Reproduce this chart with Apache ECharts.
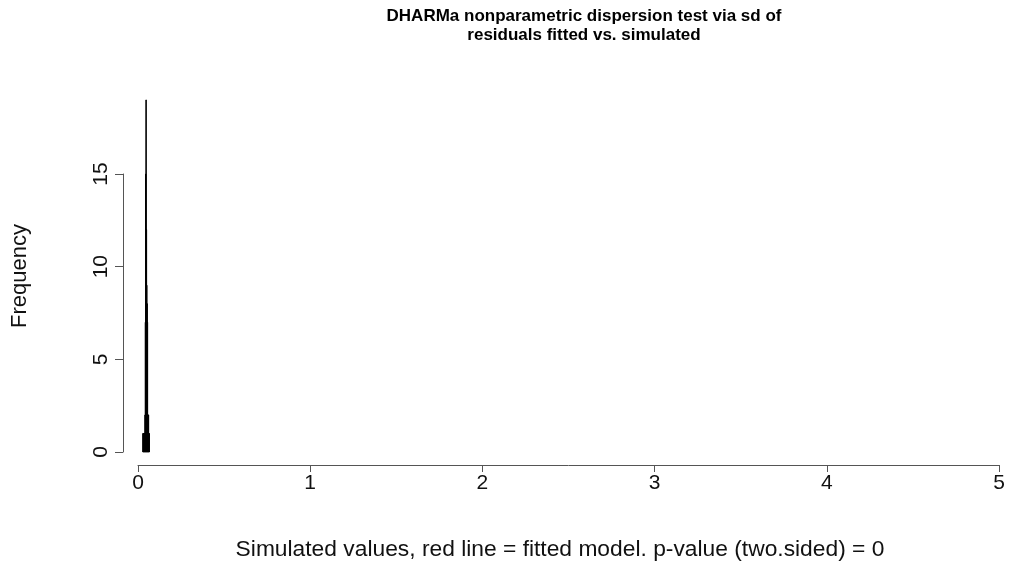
<!DOCTYPE html>
<html>
<head>
<meta charset="utf-8">
<script src="https://cdn.jsdelivr.net/npm/echarts@6/dist/echarts.min.js"></script>
<style>
html,body{margin:0;padding:0;background:#fff;}
#chart{width:1013px;height:581px;}
</style>
</head>
<body>
<div id="chart"></div>
<script>
// Histogram of simulated dispersion statistics (sd of residuals)
var binStarts = [0.028,0.030,0.032,0.034,0.036,0.038,0.040,0.042,0.044,0.046,0.048,0.050,0.052,0.054,0.056,0.058,0.060,0.062,0.064];
var binWidth = 0.002;
var counts = [1,1,1,1,1,1,2,7,15,19,12,9,8,7,2,2,2,1,1];
var xTicks = [0,1,2,3,4,5];
var yTicks = [0,5,10,15];
var titleText = 'DHARMa nonparametric dispersion test via sd of\nresiduals fitted vs. simulated';
var xTitle = 'Simulated values, red line = fitted model. p-value (two.sided) = 0';
var yTitle = 'Frequency';

var histData = binStarts.map(function(s,i){ return [s, s+binWidth, counts[i]]; });

var FONT = '"Liberation Sans", Arial, Helvetica, sans-serif';
var chart = echarts.init(document.getElementById('chart'), null, {renderer:'canvas'});
var option = {
  backgroundColor:'#fff',
  animation:false,
  title:{
    text:titleText,
    left:579, top:2, textAlign:'center',
    textStyle:{fontFamily:FONT, fontSize:17, fontWeight:'bold', color:'#000', lineHeight:19}
  },
  grid:[
    {left:138, right:14, top:81.4, bottom:129},
    {left:138, right:14, top:174, bottom:129}
  ],
  xAxis:[
    {gridIndex:0, type:'value', min:0, max:5, show:false},
    {gridIndex:1, type:'value', min:xTicks[0], max:xTicks[xTicks.length-1], interval:1,
     offset:13,
     axisLine:{show:true, onZero:false, lineStyle:{color:'#555', width:1}},
     axisTick:{show:true, length:7, lineStyle:{color:'#555', width:1}},
     axisLabel:{show:true, margin:8, fontFamily:FONT, fontSize:21, color:'#111'},
     splitLine:{show:false}}
  ],
  yAxis:[
    {gridIndex:0, type:'value', min:0, max:20, show:false},
    {gridIndex:1, type:'value', min:yTicks[0], max:yTicks[yTicks.length-1], interval:5,
     offset:15,
     axisLine:{show:true, onZero:false, lineStyle:{color:'#555', width:1}},
     axisTick:{show:true, length:8, lineStyle:{color:'#555', width:1}},
     axisLabel:{show:true, rotate:90, margin:11, fontFamily:FONT, fontSize:21, color:'#111'},
     splitLine:{show:false}}
  ],
  series:[{
    type:'custom',
    xAxisIndex:0, yAxisIndex:0,
    data:histData,
    clip:false,
    renderItem:function(params, api){
      var p0 = api.coord([api.value(0), api.value(2)]);
      var p1 = api.coord([api.value(1), 0]);
      return {type:'rect',
        shape:{x:p0[0], y:p0[1], width:p1[0]-p0[0], height:p1[1]-p0[1]},
        style:{fill:'#000', stroke:'#000', lineWidth:1}};
    }
  }],
  graphic:[
    {type:'text', x:560, y:550, style:{text:xTitle, font:'22.8px ' + FONT, fill:'#111', align:'center', verticalAlign:'middle'}},
    {type:'text', x:20, y:276, rotation:Math.PI/2, style:{text:yTitle, font:'22px ' + FONT, fill:'#111', align:'center', verticalAlign:'middle'}}
  ]
};
chart.setOption(option);
</script>
</body>
</html>
